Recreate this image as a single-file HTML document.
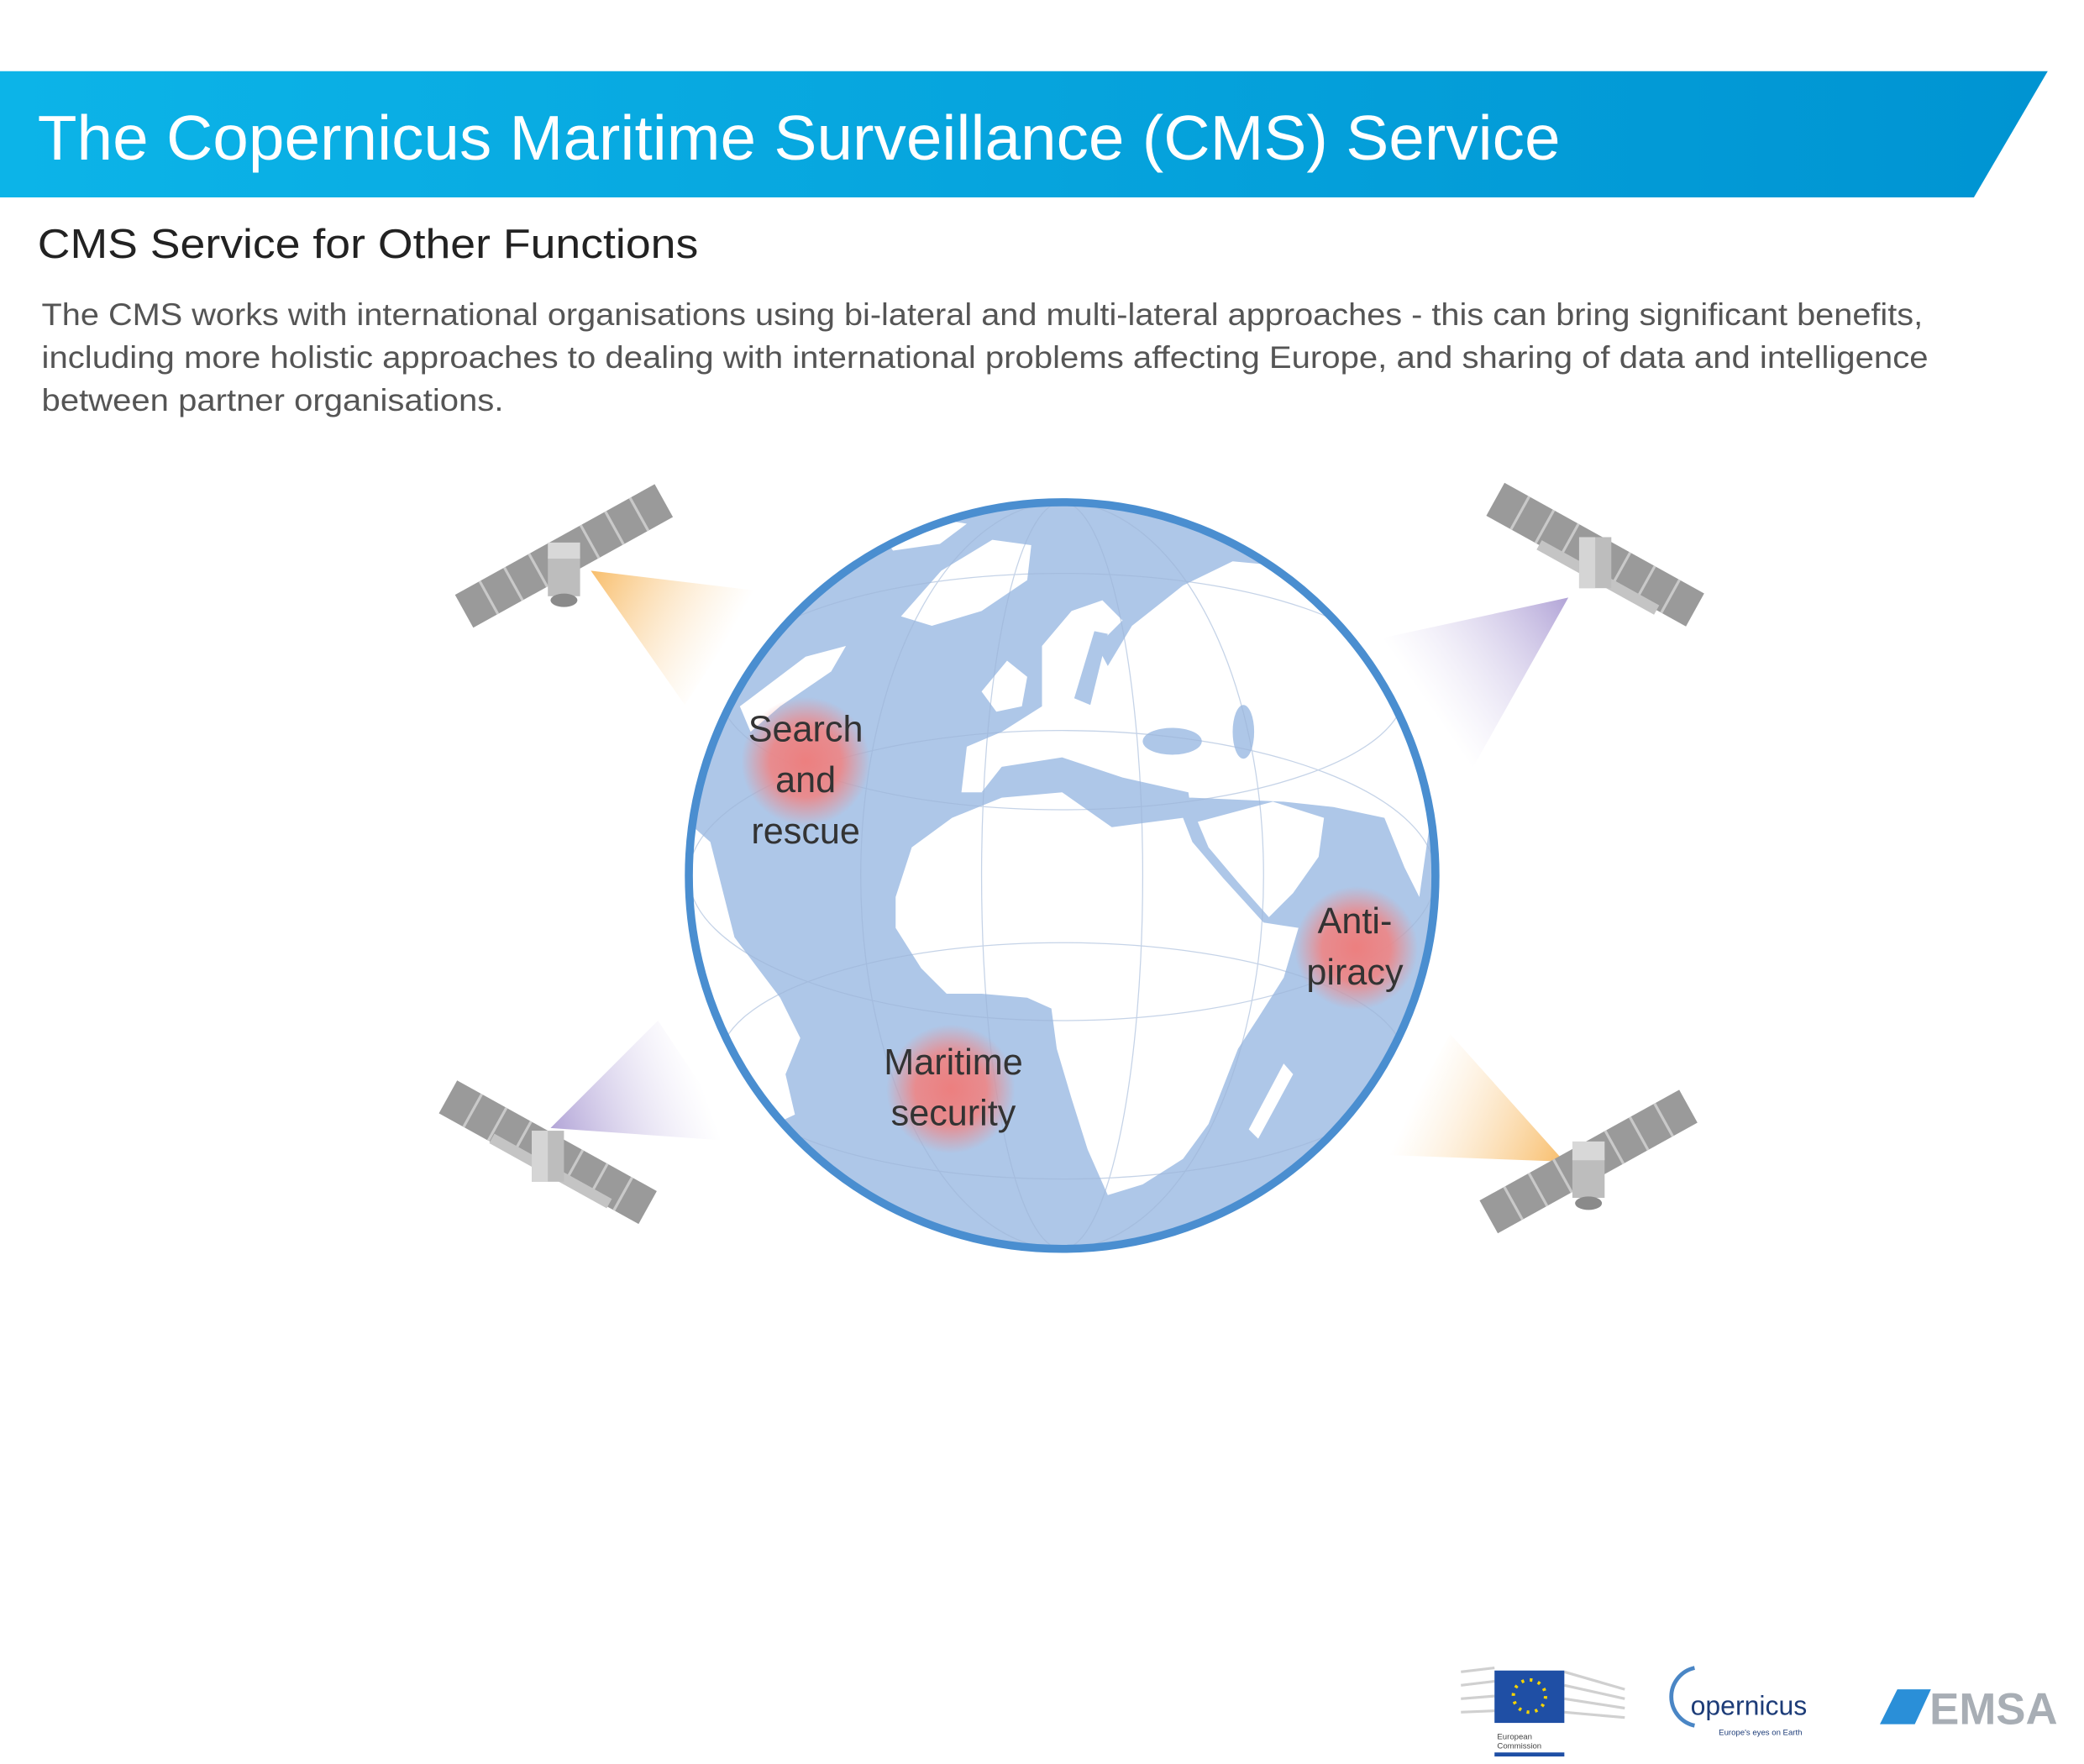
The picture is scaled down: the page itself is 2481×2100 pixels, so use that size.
<!DOCTYPE html>
<html><head><meta charset="utf-8"><style>
html,body{margin:0;padding:0;background:#fff;}
svg{display:block;}
</style></head><body>
<svg width="2481" height="2100" viewBox="0 0 1552 1313.6" preserveAspectRatio="none" xmlns="http://www.w3.org/2000/svg" font-family="'Liberation Sans', sans-serif">
<defs>
<linearGradient id="ban" x1="0" x2="1" y1="0" y2="0"><stop offset="0" stop-color="#0cb4e8"/><stop offset="1" stop-color="#0094d2"/></linearGradient>
<radialGradient id="red"><stop offset="0" stop-color="#ec7f7f"/><stop offset="0.55" stop-color="#ee8585" stop-opacity="0.9"/><stop offset="1" stop-color="#f08a8a" stop-opacity="0"/></radialGradient>
<linearGradient id="or1" x1="440" y1="425" x2="540" y2="480" gradientUnits="userSpaceOnUse"><stop offset="0" stop-color="#f7b65a" stop-opacity="0.9"/><stop offset="1" stop-color="#fbd9a8" stop-opacity="0"/></linearGradient>
<linearGradient id="pu1" x1="1168" y1="445" x2="1060" y2="520" gradientUnits="userSpaceOnUse"><stop offset="0" stop-color="#a99ad2" stop-opacity="0.9"/><stop offset="1" stop-color="#d8d0ee" stop-opacity="0"/></linearGradient>
<linearGradient id="pu2" x1="410" y1="840" x2="520" y2="800" gradientUnits="userSpaceOnUse"><stop offset="0" stop-color="#a99ad2" stop-opacity="0.9"/><stop offset="1" stop-color="#d8d0ee" stop-opacity="0"/></linearGradient>
<linearGradient id="or2" x1="1165" y1="865" x2="1055" y2="815" gradientUnits="userSpaceOnUse"><stop offset="0" stop-color="#f7b65a" stop-opacity="0.9"/><stop offset="1" stop-color="#fbd9a8" stop-opacity="0"/></linearGradient>
<clipPath id="globe"><circle cx="791" cy="652" r="278"/></clipPath>
<g id="panel"><rect x="-85" y="-14" width="170" height="28" fill="#9a9a9a"/>
<g stroke="#c9c9c9" stroke-width="2"><line x1="-64" y1="-14" x2="-64" y2="14"/><line x1="-43" y1="-14" x2="-43" y2="14"/><line x1="-22" y1="-14" x2="-22" y2="14"/><line x1="22" y1="-14" x2="22" y2="14"/><line x1="43" y1="-14" x2="43" y2="14"/><line x1="64" y1="-14" x2="64" y2="14"/></g></g>
</defs>

<!-- banner -->
<polygon points="0,53 1525,53 1470,147 0,147" fill="url(#ban)"/>
<text x="28" y="119" font-size="47" fill="#fff" textLength="1134" lengthAdjust="spacingAndGlyphs">The Copernicus Maritime Surveillance (CMS) Service</text>
<text x="28" y="192" font-size="31" fill="#222" textLength="492" lengthAdjust="spacingAndGlyphs">CMS Service for Other Functions</text>
<g font-size="23" fill="#555">
<text x="31" y="242" textLength="1401" lengthAdjust="spacingAndGlyphs">The CMS works with international organisations using bi-lateral and multi-lateral approaches - this can bring significant benefits,</text>
<text x="31" y="274" textLength="1405" lengthAdjust="spacingAndGlyphs">including more holistic approaches to dealing with international problems affecting Europe, and sharing of data and intelligence</text>
<text x="31" y="306" textLength="344" lengthAdjust="spacingAndGlyphs">between partner organisations.</text>
</g>

<!-- beams -->
<polygon points="440,425 565,440 510,525" fill="url(#or1)"/>
<polygon points="1168,445 1030,475 1095,575" fill="url(#pu1)"/>
<polygon points="410,840 490,760 550,850" fill="url(#pu2)"/>
<polygon points="1165,865 1030,860 1080,770" fill="url(#or2)"/>

<!-- globe -->
<circle cx="791" cy="652" r="278" fill="#aec7e8"/>
<g clip-path="url(#globe)" fill="#fff">
<!-- Eurasia -->
<polygon points="716,590 720,556 746,545 776,526 776,481 798,455 821,447 836,462 817,481 825,496 843,466 881,436 918,418 993,425 1023,481 1050,537 1065,612 1057,668 1046,646 1031,609 993,601 956,597 888,594 843,594 798,579 768,571 746,590"/>
<!-- Mediterranean etc -->
<polygon points="731,590 746,571 791,564 836,579 885,590 888,609 828,616 791,594" fill="#aec7e8"/>
<ellipse cx="873" cy="552" rx="22" ry="10" fill="#aec7e8"/>
<ellipse cx="926" cy="545" rx="8" ry="20" fill="#aec7e8"/>
<polygon points="800,520 815,470 825,472 812,525" fill="#aec7e8"/>
<!-- UK -->
<polygon points="731,515 750,492 765,504 761,526 742,530"/>
<!-- Africa -->
<polygon points="667,668 679,631 709,609 746,594 791,590 828,616 881,609 888,627 911,654 941,687 967,691 956,728 937,758 922,781 900,837 881,863 851,882 825,890 810,856 798,818 787,781 783,751 765,743 731,740 705,740 686,721 667,691"/>
<!-- Arabia -->
<polygon points="892,612 948,597 986,609 982,638 963,665 945,683 922,657 900,631"/>
<!-- Madagascar -->
<polygon points="956,792 963,800 937,848 930,841"/>
<!-- Greenland -->
<polygon points="671,459 701,425 739,402 768,406 765,432 731,455 694,466"/>
<!-- N America -->
<polygon points="551,526 600,489 630,481 619,500 581,526 559,545"/>
<polygon points="512,612 529,627 547,698 581,743 596,773 585,800 592,830 577,837 551,800 525,725 512,668"/>
<polygon points="655,395 690,385 720,390 700,405 665,410"/>
</g>
<g clip-path="url(#globe)" fill="none" stroke="#9fb6d8" stroke-width="0.8" opacity="0.6">
<ellipse cx="791" cy="652" rx="278" ry="108"/>
<ellipse cx="791" cy="652" rx="150" ry="278"/>
<ellipse cx="791" cy="652" rx="60" ry="278"/>
<ellipse cx="791" cy="515" rx="255" ry="88"/>
<ellipse cx="791" cy="790" rx="255" ry="88"/>
</g>
<circle cx="791" cy="652" r="278" fill="none" stroke="#4a8ed0" stroke-width="6"/>

<!-- hotspots -->
<circle cx="600" cy="567" r="48" fill="url(#red)"/>
<circle cx="1010" cy="706" r="46" fill="url(#red)"/>
<circle cx="708" cy="811" r="48" fill="url(#red)"/>
<g font-size="27" fill="#333" text-anchor="middle">
<text x="600" y="552">Search</text><text x="600" y="590">and</text><text x="600" y="628">rescue</text>
<text x="1009" y="695">Anti-</text><text x="1009" y="733">piracy</text>
<text x="710" y="800">Maritime</text><text x="710" y="838">security</text>
</g>

<!-- satellites -->
<g transform="translate(420,414) rotate(-29)"><use href="#panel"/></g>
<g transform="translate(420,422)"><rect x="-12" y="-8" width="24" height="30" fill="#bdbdbd"/><rect x="-12" y="-18" width="24" height="12" fill="#d8d8d8"/><ellipse cx="0" cy="25" rx="10" ry="5" fill="#8a8a8a"/></g>

<g transform="translate(1188,413) rotate(29)"><use href="#panel"/></g>
<g transform="translate(1190,430) rotate(29)"><rect x="-50" y="-4" width="100" height="8" fill="#c4c4c4"/></g>
<g transform="translate(1188,420)"><rect x="-12" y="-20" width="24" height="38" fill="#bdbdbd"/><rect x="-12" y="-20" width="12" height="38" fill="#d5d5d5"/></g>

<g transform="translate(408,858) rotate(29)"><use href="#panel"/></g>
<g transform="translate(410,872) rotate(29)"><rect x="-50" y="-4" width="100" height="8" fill="#c4c4c4"/></g>
<g transform="translate(408,862)"><rect x="-12" y="-20" width="24" height="38" fill="#bdbdbd"/><rect x="-12" y="-20" width="12" height="38" fill="#d5d5d5"/></g>

<g transform="translate(1183,865) rotate(-29)"><use href="#panel"/></g>
<g transform="translate(1183,870)"><rect x="-12" y="-8" width="24" height="30" fill="#bdbdbd"/><rect x="-12" y="-20" width="24" height="14" fill="#d8d8d8"/><ellipse cx="0" cy="26" rx="10" ry="5" fill="#8a8a8a"/></g>

<!-- logos -->
<g stroke="#d0d0d0" stroke-width="2">
<line x1="1088" y1="1245" x2="1113" y2="1242"/><line x1="1088" y1="1255" x2="1113" y2="1252"/><line x1="1088" y1="1265" x2="1113" y2="1263"/><line x1="1088" y1="1275" x2="1113" y2="1274"/>
<line x1="1165" y1="1245" x2="1210" y2="1258"/><line x1="1165" y1="1255" x2="1210" y2="1265"/><line x1="1165" y1="1265" x2="1210" y2="1272"/><line x1="1165" y1="1275" x2="1210" y2="1279"/>
</g>
<rect x="1113" y="1244" width="52" height="39" fill="#1f4fa5"/>
<circle cx="1139" cy="1263" r="12" fill="none" stroke="#f5d400" stroke-width="2.5" stroke-dasharray="2 4.3"/>
<text x="1115" y="1295" font-size="6" fill="#444">European</text>
<text x="1115" y="1302" font-size="6" fill="#444">Commission</text>
<rect x="1113" y="1305" width="52" height="3" fill="#1f4fa5"/>
<path d="M1262,1242 A22,22 0 0 0 1262,1285" fill="none" stroke="#4a86c5" stroke-width="3"/>
<text x="1259" y="1277" font-size="20" fill="#1d3c78">opernicus</text>
<text x="1280" y="1292" font-size="6" fill="#1d3c78">Europe's eyes on Earth</text>
<polygon points="1413,1258 1438,1258 1426,1284 1400,1284" fill="#2a8fd8"/>
<text x="1437" y="1284" font-size="33" font-weight="bold" fill="#a8aeb5">EMSA</text>
</svg>
</body></html>
